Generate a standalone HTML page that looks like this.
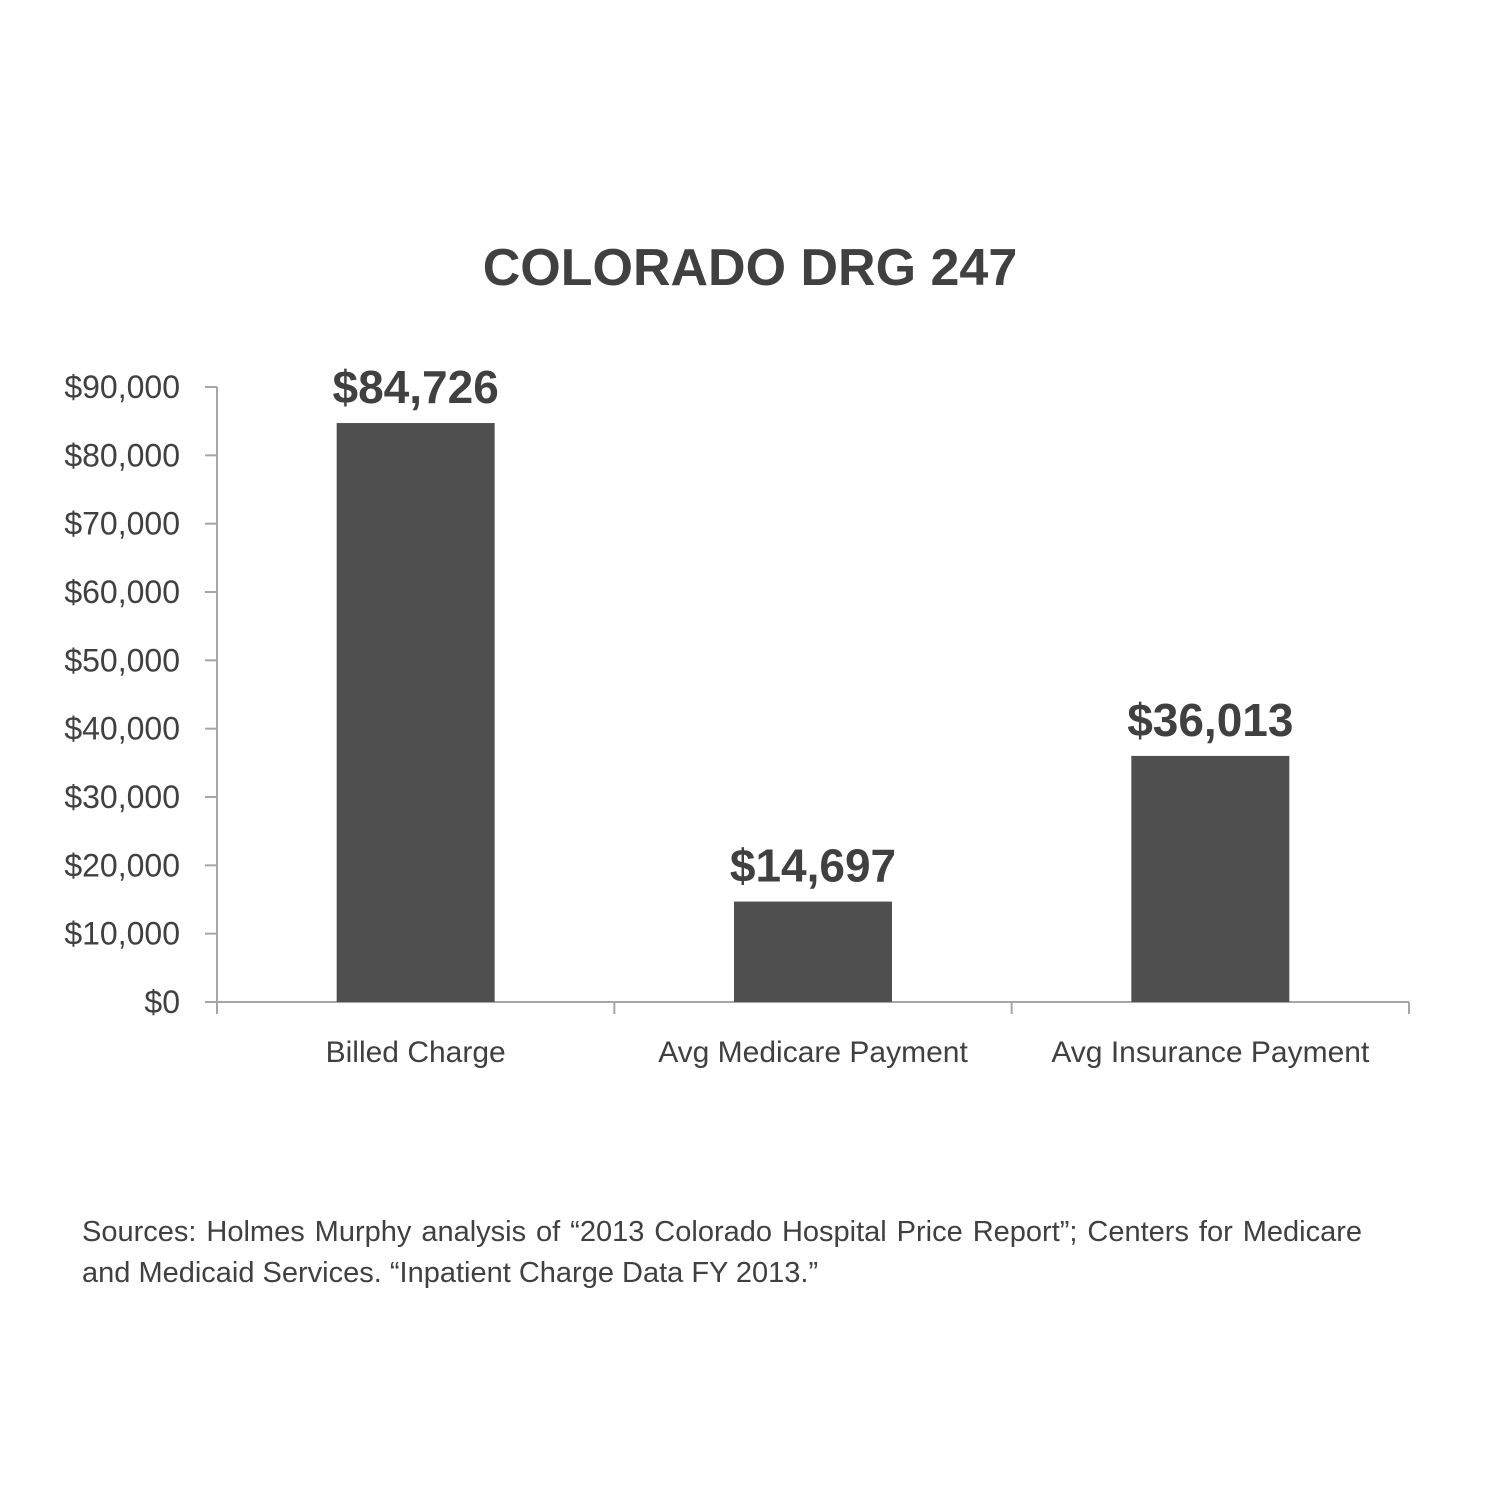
<!DOCTYPE html>
<html><head><meta charset="utf-8"><style>
body{margin:0;background:#fff;width:1500px;height:1500px;overflow:hidden;font-family:"Liberation Sans",sans-serif;color:#404040}
#src{position:absolute;left:82px;top:1212px;width:1280px;font-size:29px;line-height:41px;text-align:justify;text-align-last:left;color:#404040}
</style></head><body>
<svg id="chart" width="1500" height="1500" style="position:absolute;left:0;top:0">
<text x="750" y="285" text-anchor="middle" font-size="52" font-weight="bold" fill="#404040">COLORADO DRG 247</text>
<g id="axes"></g><g id="bars"></g>
</svg>
<div id="src">Sources: Holmes Murphy analysis of “2013 Colorado Hospital Price Report”; Centers for Medicare and Medicaid Services. “Inpatient Charge Data FY 2013.”</div>
<script>
const categories=["Billed Charge","Avg Medicare Payment","Avg Insurance Payment"];
const values=[84726,14697,36013];
const valueLabels=["$84,726","$14,697","$36,013"];
const yTicks=[0,10000,20000,30000,40000,50000,60000,70000,80000,90000];
const yTickLabels=["$0","$10,000","$20,000","$30,000","$40,000","$50,000","$60,000","$70,000","$80,000","$90,000"];
const NS="http://www.w3.org/2000/svg";
const x0=217,x1=1409,yBase=1002,yTop=387,yMax=90000;
const y=v=>yBase-(v/yMax)*(yBase-yTop);
const bw=(x1-x0)/categories.length;
const xc=i=>x0+bw*(i+0.5);
function mk(t,a,p){const e=document.createElementNS(NS,t);for(const k in a)e.setAttribute(k,a[k]);p.appendChild(e);return e;}
const ax=document.getElementById('axes'),bg=document.getElementById('bars');
let l=mk('line',{x1:x0,y1:yTop,x2:x0,y2:yBase,stroke:'#a6a6a6','stroke-width':2},ax);


l=mk('line',{x1:x0,y1:yBase,x2:x1,y2:yBase,stroke:'#a6a6a6','stroke-width':2},ax);


yTicks.forEach((v,i)=>{
 const t=mk('line',{x1:x0-12,y1:y(v),x2:x0,y2:y(v),stroke:'#a6a6a6','stroke-width':2},ax);
 
 
 const tx=mk('text',{x:180,y:y(v)+11,'text-anchor':'end','font-size':32,fill:'#404040'},ax);
 tx.textContent=yTickLabels[i];
 
 
});
for(let i=0;i<=categories.length;i++){
 const t=mk('line',{x1:x0+bw*i,y1:yBase,x2:x0+bw*i,y2:yBase+12,stroke:'#a6a6a6','stroke-width':2},ax);
 
 
}
categories.forEach((c,i)=>{
 const w=158;
 const r=mk('rect',{x:xc(i)-w/2,y:y(values[i]),width:w,height:yBase-y(values[i]),fill:'#4f4f4f'},bg);
 
 
 const vl=mk('text',{x:xc(i),y:y(values[i])-20,'text-anchor':'middle','font-size':46,'font-weight':'bold',fill:'#404040'},bg);
 vl.textContent=valueLabels[i];
 
 
 const cl=mk('text',{x:xc(i),y:1062,'text-anchor':'middle','font-size':30,fill:'#404040'},bg);
 cl.textContent=c;
 
 
});
</script>
</body></html>
